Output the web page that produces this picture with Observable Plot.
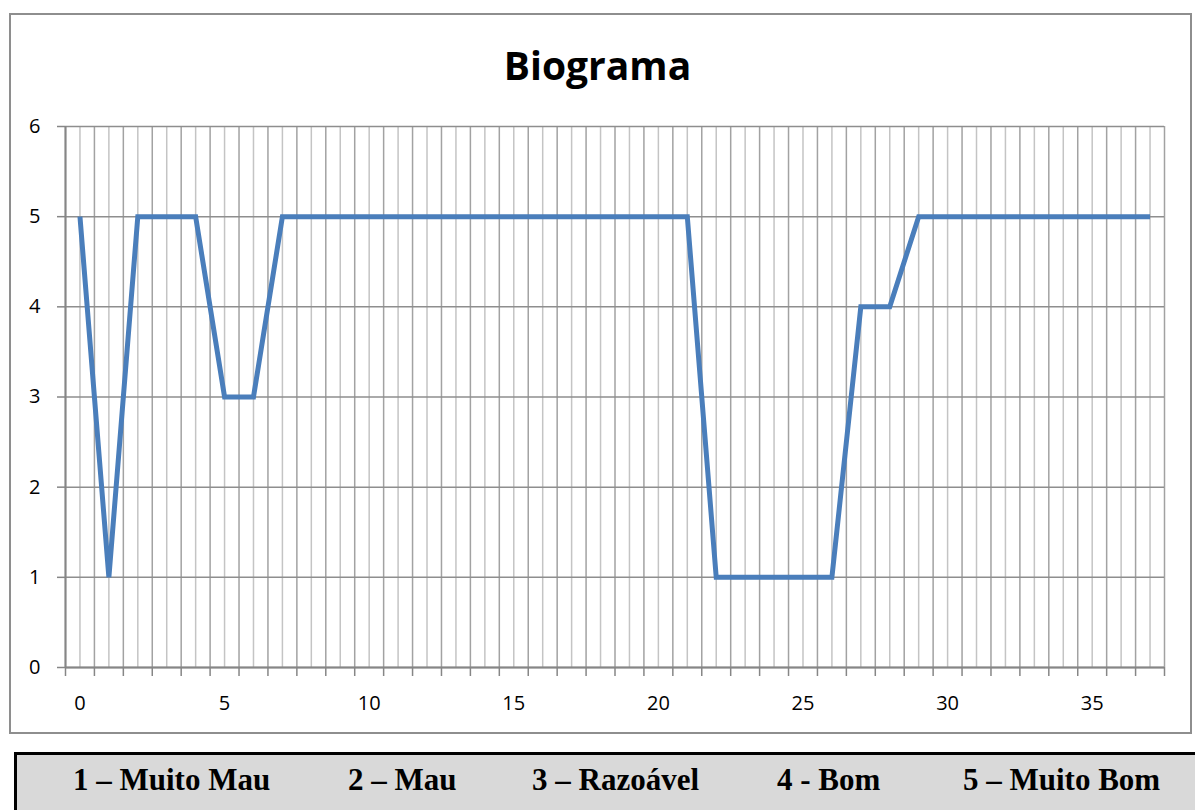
<!DOCTYPE html>
<html>
<head>
<meta charset="utf-8">
<script src="https://cdn.jsdelivr.net/npm/d3@7"></script>
<script src="https://cdn.jsdelivr.net/npm/@observablehq/plot@0.6"></script>
<style>
  html, body { margin: 0; padding: 0; background: #fff; overflow: hidden; }
  #wrap { position: relative; width: 1195px; height: 810px; }
  #frame { position: absolute; left: 9px; top: 13px; width: 1183px; height: 721px; box-sizing: border-box; border: 2px solid #8e8e8e; }
  #title { position: absolute; left: 0; width: 1195px; top: 39px; text-align: center; font-family: "Open Sans", sans-serif; font-weight: bold; font-size: 39px; color: #000; line-height: 52px; }
  #chart { position: absolute; left: 0; top: 0; }
  #chart svg text { font-size: 20px !important; font-family: "Open Sans", sans-serif !important; fill: #000; }
  #legend { position: absolute; left: 14px; top: 752px; width: 1200px; height: 80px; box-sizing: border-box; border-top: 3px solid #000; border-left: 3px solid #000; background: #d9d9d9; }
  .leg { position: absolute; top: 6px; font-family: "Liberation Serif", "Times New Roman", serif; font-weight: bold; font-size: 31px; color: #000; white-space: nowrap; line-height: 38px; }
</style>
</head>
<body>
<div id="wrap">
  <div id="frame"></div>
  <div id="title">Biograma</div>
  <div id="chart"></div>
  <div id="legend"></div>
</div>
<script>
// Data
const categories = [0,1,2,3,4,5,6,7,8,9,10,11,12,13,14,15,16,17,18,19,20,21,22,23,24,25,26,27,28,29,30,31,32,33,34,35,36,37];
const values     = [5,1,5,5,5,3,3,5,5,5,5,5,5,5,5,5,5,5,5,5,5,5,1,1,1,1,1,4,4,5,5,5,5,5,5,5,5,5];
const xTickLabels = [0,5,10,15,20,25,30,35];
const yTickLabels = [0,1,2,3,4,5,6];
const legendItems = ["1 \u2013 Muito Mau", "2 \u2013 Mau", "3 \u2013 Razoável", "4 - Bom", "5 \u2013 Muito Bom"];

const data = categories.map((c, i) => ({x: c, y: values[i]}));
const boundaries = categories.concat([categories.length]).map(c => c - 0.5);

const chart = Plot.plot({
  width: 1195,
  height: 740,
  marginLeft: 65,
  marginRight: 31,
  marginTop: 126,
  marginBottom: 73,
  style: {fontFamily: "'Open Sans', sans-serif", fontSize: "20px", color: "#000", background: "transparent", overflow: "visible"},
  x: {domain: [-0.5, categories.length - 0.5]},
  y: {domain: [0, 6]},
  marks: [
    Plot.ruleX(categories, {stroke: "#c4c4c4", strokeWidth: 1.5}),
    Plot.ruleX(boundaries, {stroke: "#a2a2a2", strokeWidth: 1.5}),
    Plot.ruleY(yTickLabels, {stroke: "#8e8e8e", strokeWidth: 1.5}),
    Plot.ruleX([-0.5], {stroke: "#868686", strokeWidth: 2}),
    Plot.ruleY([0], {stroke: "#868686", strokeWidth: 2}),
    Plot.axisX({ticks: boundaries, tickFormat: () => "", tickSize: 9, stroke: "#868686", strokeWidth: 1.5, label: null}),
    Plot.axisX({ticks: xTickLabels, tickFormat: d => String(d), tickSize: 0, tickPadding: 28, fontSize: 20, label: null}),
    Plot.axisY({ticks: yTickLabels, tickFormat: d => String(d), tickSize: 8, tickPadding: 17, fontSize: 20, stroke: "#868686", strokeWidth: 1.5, label: null}),
    Plot.line(data, {x: "x", y: "y", stroke: "#4a7ebb", strokeWidth: 5, strokeLinejoin: "miter", strokeLinecap: "butt", strokeMiterlimit: 10})
  ]
});
document.getElementById("chart").appendChild(chart);

const legendLeft = [56, 331, 515, 760, 946];
const legend = document.getElementById("legend");
legendItems.forEach((t, i) => {
  const s = document.createElement("span");
  s.className = "leg";
  s.textContent = t;
  s.style.left = legendLeft[i] + "px";
  legend.appendChild(s);
});
</script>
</body>
</html>
